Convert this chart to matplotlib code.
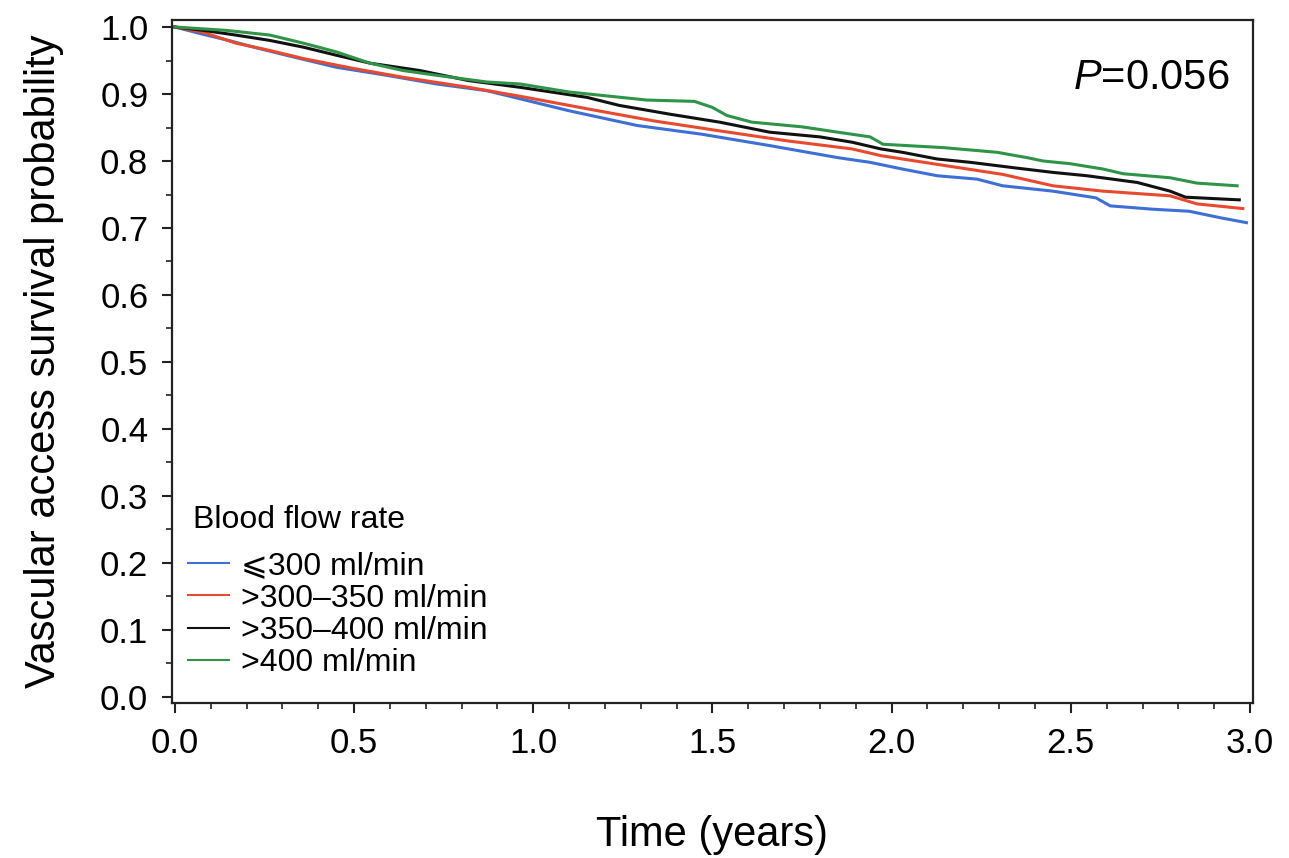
import matplotlib
matplotlib.use("Agg")
import matplotlib.pyplot as plt
from matplotlib.ticker import MultipleLocator

plt.rcParams['font.family'] = ['Liberation Sans', 'DejaVu Sans']
plt.rcParams['mathtext.fontset'] = 'custom'
plt.rcParams['mathtext.it'] = 'Liberation Sans:italic'
plt.rcParams['mathtext.rm'] = 'Liberation Sans'

# survival curves (time in years, survival probability)
t_le300 = [0, 0.08, 0.15, 0.22, 0.31, 0.45, 0.59, 0.73, 0.87, 0.97, 1.10, 1.29, 1.47,
           1.66, 1.85, 1.94, 2.03, 2.127, 2.238, 2.31, 2.45, 2.57, 2.61, 2.73, 2.83, 2.92, 2.99]
s_le300 = [1.0, 0.989, 0.98, 0.970, 0.958, 0.940, 0.928, 0.915, 0.905, 0.892, 0.875, 0.853, 0.840,
           0.823, 0.805, 0.798, 0.788, 0.778, 0.773, 0.763, 0.755, 0.745, 0.733, 0.728, 0.725, 0.715, 0.708]

t_300_350 = [0, 0.08, 0.17, 0.265, 0.358, 0.50, 0.637, 0.82, 0.97, 1.15, 1.335, 1.52, 1.71,
             1.89, 1.97, 2.127, 2.31, 2.45, 2.59, 2.777, 2.852, 2.98]
s_300_350 = [1.0, 0.992, 0.976, 0.965, 0.953, 0.938, 0.925, 0.910, 0.896, 0.878, 0.860, 0.845, 0.830,
             0.818, 0.808, 0.795, 0.780, 0.763, 0.755, 0.748, 0.736, 0.729]

t_350_400 = [0, 0.08, 0.17, 0.265, 0.358, 0.45, 0.545, 0.684, 0.82, 0.963, 1.15, 1.24, 1.38, 1.52,
             1.66, 1.80, 1.89, 1.97, 2.03, 2.127, 2.22, 2.34, 2.45, 2.545, 2.685, 2.777, 2.82, 2.97]
s_350_400 = [1.0, 0.995, 0.988, 0.980, 0.970, 0.958, 0.946, 0.935, 0.920, 0.910, 0.895, 0.883, 0.870, 0.858,
             0.843, 0.836, 0.828, 0.818, 0.813, 0.803, 0.798, 0.790, 0.783, 0.778, 0.768, 0.755, 0.746, 0.742]

t_gt400 = [0, 0.144, 0.265, 0.358, 0.45, 0.545, 0.637, 0.73, 0.87, 0.963, 1.10, 1.317, 1.45, 1.50,
           1.54, 1.61, 1.75, 1.85, 1.94, 1.976, 2.144, 2.294, 2.378, 2.423, 2.498, 2.59, 2.646,
           2.777, 2.852, 2.964]
s_gt400 = [1.0, 0.995, 0.988, 0.976, 0.963, 0.946, 0.935, 0.928, 0.918, 0.915, 0.903, 0.891, 0.889, 0.880,
           0.868, 0.858, 0.851, 0.843, 0.836, 0.825, 0.820, 0.813, 0.805, 0.800, 0.796, 0.788, 0.781,
           0.775, 0.767, 0.763]

labels = ["\u2a7d300 ml/min", ">300\u2013350 ml/min", ">350\u2013400 ml/min", ">400 ml/min"]
colors = ["#3e6fd6", "#e8492f", "#111111", "#2f9447"]

fig = plt.figure(figsize=(12.89, 8.58), dpi=100)
ax = fig.add_axes([0.1334, 0.1807, 0.8386, 0.796])

curves = [(t_le300, s_le300), (t_300_350, s_300_350), (t_350_400, s_350_400), (t_gt400, s_gt400)]
for (t, s), lab, c in zip(curves, labels, colors):
    ax.plot(t, s, color=c, lw=2.2, label=lab, solid_joinstyle='miter')

ax.set_xlim(-0.008, 3.008)
ax.set_ylim(-0.009, 1.0105)
ax.xaxis.set_major_locator(MultipleLocator(0.5))
ax.xaxis.set_minor_locator(MultipleLocator(0.1))
ax.yaxis.set_major_locator(MultipleLocator(0.1))
ax.yaxis.set_minor_locator(MultipleLocator(0.05))
ax.xaxis.set_major_formatter(plt.FormatStrFormatter('%.1f'))
ax.yaxis.set_major_formatter(plt.FormatStrFormatter('%.1f'))
ax.tick_params(which='major', direction='out', length=7, width=1.5, labelsize=25, pad=10, color='#222222')
ax.tick_params(which='minor', direction='out', length=4, width=1.2, color='#222222')
for sp in ax.spines.values():
    sp.set_linewidth(1.6)
    sp.set_color('#222222')

ax.set_xlabel("Time (years)", fontsize=30, labelpad=40)
ax.set_ylabel("Vascular access survival probability", fontsize=30, labelpad=26)

ax.text(0.978, 0.915, r"$\mathit{P}$=0.056", transform=ax.transAxes, ha='right', va='center', fontsize=30)

ax.text(0.0194, 0.268, "Blood flow rate", transform=ax.transAxes, ha='left', va='center', fontsize=23)
leg = ax.legend(loc='upper left', bbox_to_anchor=(0.0148, 0.222), frameon=False, fontsize=23,
                handlelength=1.3, handletextpad=0.37, labelspacing=0.07, borderpad=0, borderaxespad=0)
for h in leg.get_lines():
    h.set_linewidth(1.5)

fig.savefig("out.png", dpi=100)
